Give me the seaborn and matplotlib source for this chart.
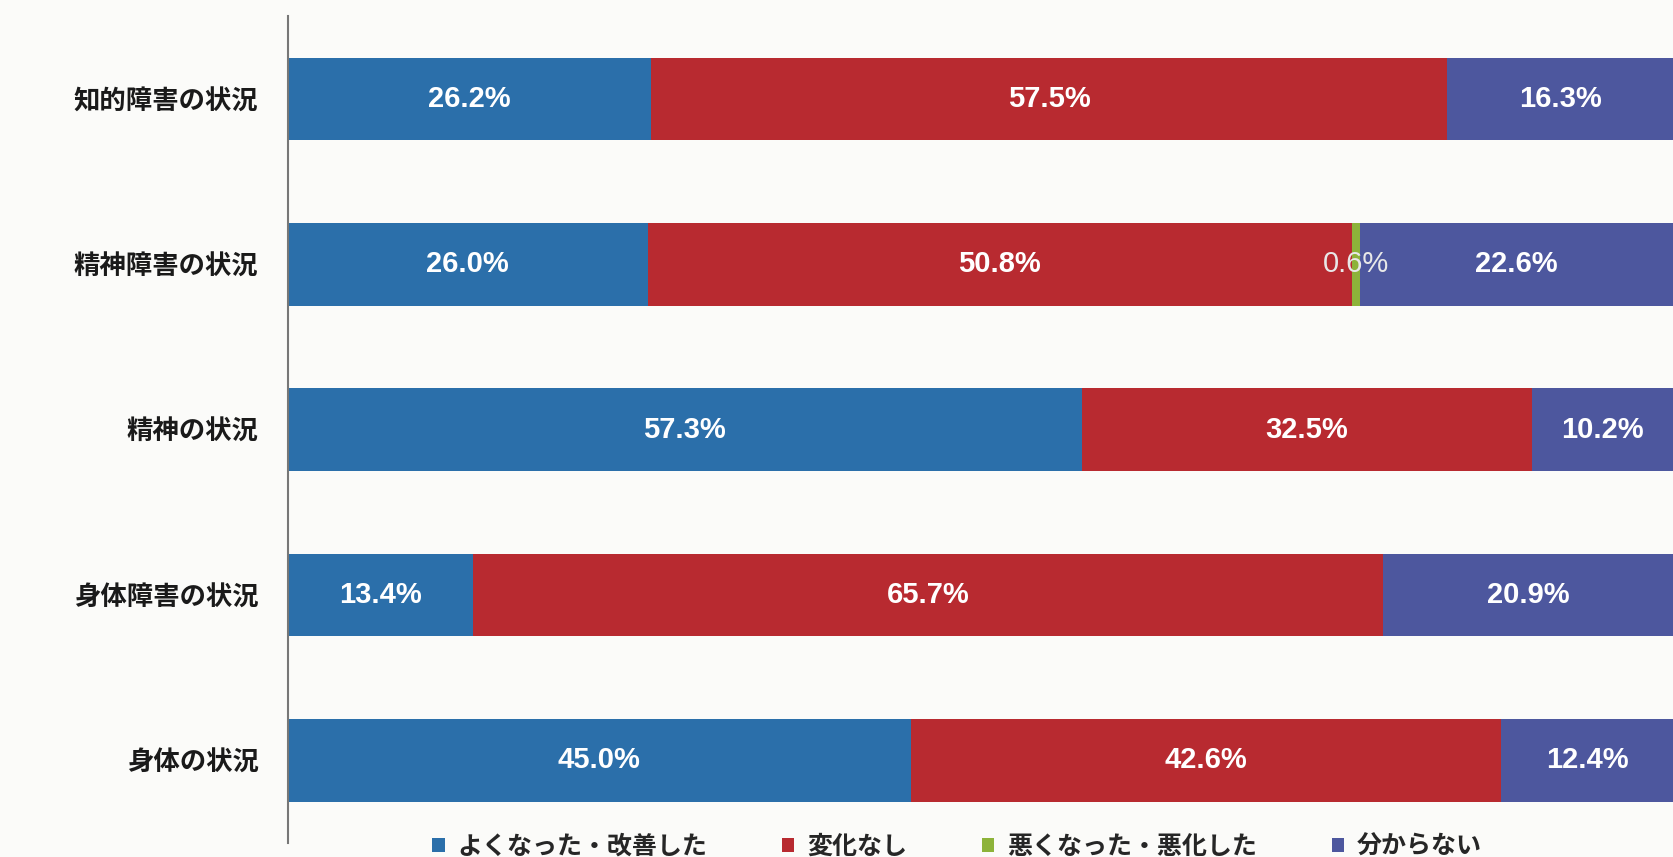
import matplotlib
matplotlib.use("Agg")
import matplotlib.pyplot as plt
import seaborn as sns
import numpy as np
import pandas as pd
from matplotlib.patches import Patch

categories = ["知的障害の状況", "精神障害の状況", "精神の状況", "身体障害の状況", "身体の状況"]
series_names = ["よくなった・改善した", "変化なし", "悪くなった・悪化した", "分からない"]
improved = [26.2, 26.0, 57.3, 13.4, 45.0]
unchanged = [57.5, 50.8, 32.5, 65.7, 42.6]
worse = [0.0, 0.6, 0.0, 0.0, 0.0]
unknown = [16.3, 22.6, 10.2, 20.9, 12.4]

colors = ["#2B6FAA", "#B82A30", "#8DB33A", "#4D579E"]

sns.set_theme(style="white")
plt.rcParams['font.family'] = ['Noto Sans CJK JP', 'DejaVu Sans']

fig = plt.figure(figsize=(16.73, 8.57), dpi=100)
fig.patch.set_facecolor("#FBFBF9")
ax = fig.add_axes([0.172, 0.0163, 0.828, 0.9647])
ax.set_facecolor("#FBFBF9")

vals = np.array([improved, unchanged, worse, unknown])
cum = np.cumsum(vals, axis=0)

# draw from the largest cumulative to the smallest
for i in range(3, -1, -1):
    df = pd.DataFrame({"cat": categories, "v": cum[i]})
    sns.barplot(data=df, x="v", y="cat", orient="h", color=colors[i],
                saturation=1, width=0.5, ax=ax, linewidth=0)

ax.set_xlim(0, 100)
ax.set_ylim(4.5, -0.5)
ax.set_xlabel("")
ax.set_ylabel("")
ax.set_xticks([])
ax.tick_params(axis="y", length=0, pad=21, labelsize=19)
for lbl in ax.get_yticklabels():
    lbl.set_fontweight("bold")
    lbl.set_color("#1a1a1a")

for s in ["top", "right", "bottom"]:
    ax.spines[s].set_visible(False)
ax.spines["left"].set_color("#777777")
ax.spines["left"].set_linewidth(1.5)

num_font = ['Liberation Sans', 'DejaVu Sans']
for i in range(4):
    for j, cat in enumerate(categories):
        v = vals[i, j]
        if v <= 0:
            continue
        x = cum[i, j] - v / 2
        if v < 2:
            ax.text(x, j, f"{v:.1f}%", ha="center", va="center", color="#E8E8E8",
                    fontsize=21, family=num_font)
        else:
            ax.text(x, j, f"{v:.1f}%", ha="center", va="center", color="white",
                    fontsize=21, fontweight="bold", family=num_font)

handles = [Patch(facecolor=c, edgecolor="none") for c in colors]
fig.legend(handles, series_names, loc="center", bbox_to_anchor=(0.572, 0.012),
           ncol=4, frameon=False, handlelength=0.5, handleheight=0.5,
           columnspacing=3.0, handletextpad=0.5,
           prop={'family': ['Noto Sans CJK JP', 'DejaVu Sans'], 'weight': 'bold', 'size': 18})

fig.savefig("out.png", dpi=100, facecolor=fig.get_facecolor())
